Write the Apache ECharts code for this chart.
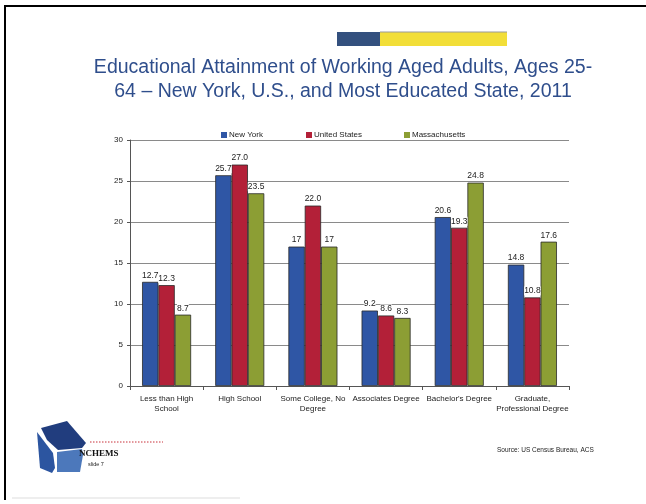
<!DOCTYPE html>
<html>
<head>
<meta charset="utf-8">
<script src="https://cdn.jsdelivr.net/npm/echarts@6/dist/echarts.min.js"></script>
<style>
  html, body { margin: 0; padding: 0; background: #fff; }
  #chart { width: 646px; height: 504px; }
</style>
</head>
<body>
<div id="chart"></div>
<script>
// Education levels along the x axis
const categories = [
  'Less than High\nSchool',
  'High School',
  'Some College, No\nDegree',
  'Associates Degree',
  "Bachelor's Degree",
  'Graduate,\nProfessional Degree'
];

// Share of adults 25-64 by highest attainment (%); kept as printed text
const newYork       = ['12.7', '25.7', '17',   '9.2', '20.6', '14.8'];
const unitedStates  = ['12.3', '27.0', '22.0', '8.6', '19.3', '10.8'];
const massachusetts = ['8.7',  '23.5', '17',   '8.3', '24.8', '17.6'];

const seriesNames = ['New York', 'United States', 'Massachusetts'];
const yTicks = [0, 5, 10, 15, 20, 25, 30];

const colors = ['#2f56a5', '#b32038', '#8c9e34'];
const font = 'Liberation Sans, Arial, sans-serif';

function makeSeries(name, values, color) {
  return {
    name: name,
    type: 'bar',
    data: values.map(Number),
    barGap: '0%',
    barCategoryGap: '33%',
    itemStyle: { color: color, borderColor: '#2a2a2a', borderWidth: 0.8 },
    label: {
      show: true,
      position: 'top',
      distance: 2,
      fontFamily: font,
      fontSize: 8.5,
      color: '#222',
      backgroundColor: '#fff',
      padding: [0, 0, 0, 0],
      formatter: p => values[p.dataIndex]
    }
  };
}

const chart = echarts.init(document.getElementById('chart'), null, { renderer: 'canvas' });

chart.setOption({
  animation: false,
  backgroundColor: '#fff',
  color: colors,
  title: {
    text: 'Educational Attainment of Working Aged Adults, Ages 25-\n64 – New York, U.S., and Most Educated State, 2011',
    left: 338,
    top: 51,
    textAlign: 'center',
    textStyle: {
      fontFamily: font,
      fontWeight: 'normal',
      fontSize: 19.5,
      lineHeight: 24,
      color: '#2f4e8c'
    }
  },
  legend: [
    { data: [seriesNames[0]], left: 216, top: 126 },
    { data: [seriesNames[1]], left: 301, top: 126 },
    { data: [seriesNames[2]], left: 399, top: 126 }
  ].map(l => Object.assign(l, {
    icon: 'rect',
    itemWidth: 6,
    itemHeight: 6,
    itemGap: 0,
    itemStyle: { borderWidth: 0 },
    textStyle: { fontFamily: font, fontSize: 8, color: '#222', padding: [0, 0, 0, -3] }
  })),
  grid: { left: 130, right: 77, top: 140, bottom: 118, containLabel: false },
  xAxis: {
    type: 'category',
    data: categories,
    axisLine: { lineStyle: { color: '#555', width: 1 } },
    axisTick: { show: true, length: 4, lineStyle: { color: '#555' } },
    axisLabel: {
      interval: 0,
      margin: 8,
      fontFamily: font,
      fontSize: 8,
      lineHeight: 10,
      color: '#222'
    }
  },
  yAxis: {
    type: 'value',
    min: yTicks[0],
    max: yTicks[yTicks.length - 1],
    interval: 5,
    axisLine: { show: true, lineStyle: { color: '#555', width: 1 } },
    axisTick: { show: true, length: 3, lineStyle: { color: '#555' } },
    splitLine: { lineStyle: { color: '#8a8a8a', width: 1 } },
    axisLabel: { margin: 7, fontFamily: font, fontSize: 8, color: '#222' }
  },
  series: [
    makeSeries(seriesNames[0], newYork, colors[0]),
    makeSeries(seriesNames[1], unitedStates, colors[1]),
    makeSeries(seriesNames[2], massachusetts, colors[2])
  ],
  graphic: [
    // slide frame
    { type: 'line', shape: { x1: 4, y1: 6, x2: 646, y2: 6 }, style: { stroke: '#000', lineWidth: 2 } },
    { type: 'line', shape: { x1: 5, y1: 6, x2: 5, y2: 500 }, style: { stroke: '#000', lineWidth: 2 } },
    { type: 'line', shape: { x1: 12, y1: 498, x2: 240, y2: 498 }, style: { stroke: '#ddd', lineWidth: 1 } },
    // header banner
    { type: 'rect', shape: { x: 337, y: 32, width: 43, height: 14 }, style: { fill: '#33507e' } },
    { type: 'rect', shape: { x: 380, y: 32, width: 127, height: 14 }, style: { fill: '#f2de38' } },
    { type: 'line', shape: { x1: 380, y1: 32, x2: 507, y2: 32 }, style: { stroke: '#999', lineWidth: 1 } },
    // logo cube: top, left and front faces
    { type: 'polygon', shape: { points: [[41, 428], [67, 421], [86, 443], [82, 448], [58, 450], [47, 440]] }, style: { fill: '#213d7e' } },
    { type: 'polygon', shape: { points: [[37, 432], [53, 453], [55, 468], [52, 473], [40, 468]] }, style: { fill: '#2c55a0' } },
    { type: 'polygon', shape: { points: [[57, 452], [82, 449], [83, 455], [80, 472], [57, 472]] }, style: { fill: '#4c78bb' } },
    // dotted rule beside logo
    { type: 'line', shape: { x1: 90, y1: 442, x2: 163, y2: 442 }, style: { stroke: '#c8303a', lineWidth: 1, lineDash: [1.5, 1.5] } },
    { type: 'text', style: { x: 79, y: 449, text: 'NCHEMS', font: 'bold 9px "Liberation Serif", serif', fill: '#111' } },
    { type: 'text', style: { x: 88, y: 461, text: 'slide 7', font: '5.5px "Liberation Sans", sans-serif', fill: '#222' } },
    // source note
    { type: 'text', style: { x: 497, y: 447, text: 'Source: US Census Bureau, ACS', font: '6.5px "Liberation Sans", sans-serif', fill: '#222' } }
  ]
});
</script>
</body>
</html>
